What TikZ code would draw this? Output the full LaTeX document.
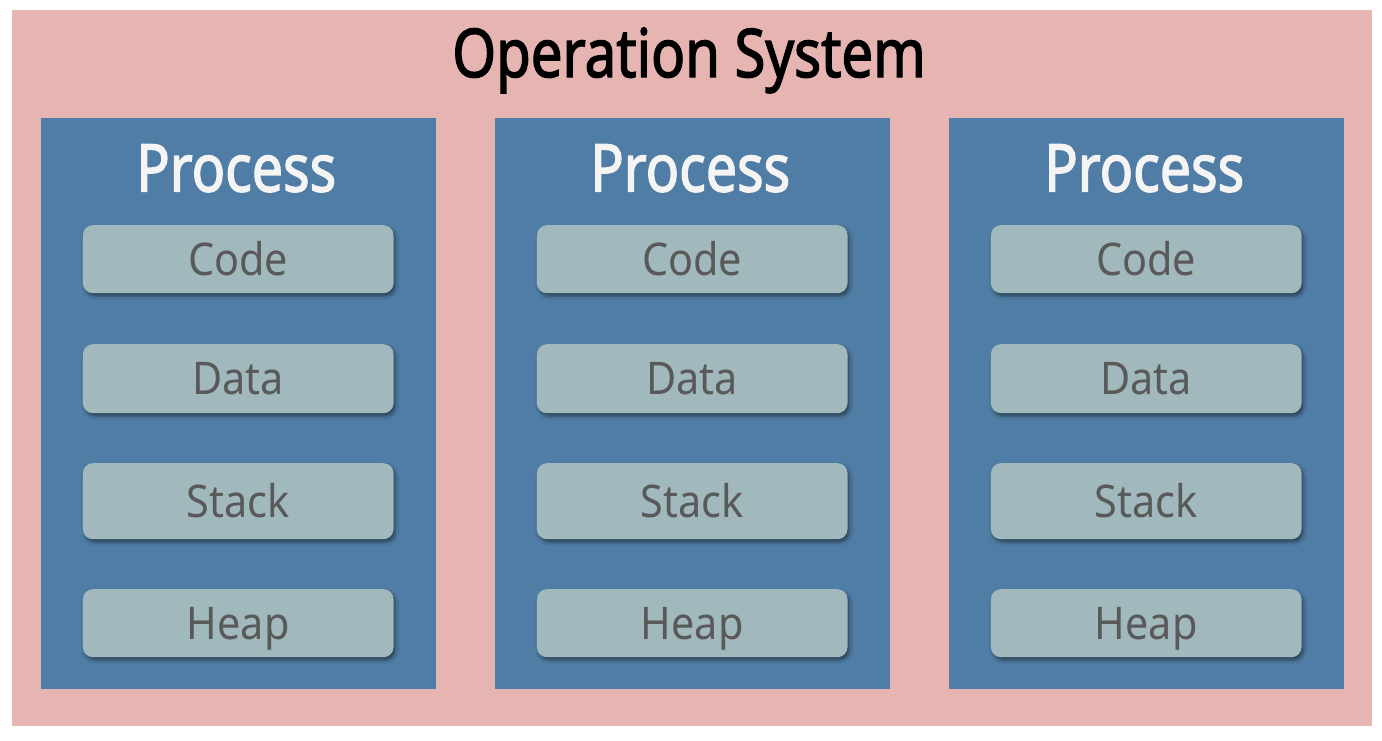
\documentclass[tikz,border=0pt]{standalone}
\usepackage{fontspec}
\setmainfont{Noto Sans}
\newfontfamily\heavyfont[FakeBold=2.2]{Noto Sans}
\usetikzlibrary{shadows.blur}
\definecolor{ospink}{HTML}{E6B4B1}
\definecolor{procblue}{HTML}{507DA5}
\definecolor{segfill}{HTML}{A1B9BC}
\definecolor{segtext}{HTML}{595959}
\definecolor{proctext}{HTML}{F4F4F4}
\newcommand{\titlefmt}[1]{\scalebox{0.84}[1]{\heavyfont\fontsize{67pt}{67pt}\selectfont #1}}
\newcommand{\procfmt}[1]{\scalebox{0.84}[1]{\heavyfont\fontsize{66pt}{66pt}\selectfont #1}}
\newcommand{\segfmt}[1]{\scalebox{0.92}[1]{\fontsize{45pt}{45pt}\selectfont #1}}
\begin{document}
\begin{tikzpicture}[x=1pt,y=-1pt,
  osbox/.style={rectangle, fill=ospink, draw=none, inner sep=0pt, anchor=north west,
    minimum width=1360pt, minimum height=716pt},
  procbox/.style={rectangle, fill=procblue, draw=none, inner sep=0pt, anchor=north west,
    minimum width=395pt, minimum height=571pt},
  segbox/.style={rectangle, rounded corners=10pt, fill=segfill, draw=none, inner sep=0pt,
    anchor=north west, minimum width=310.6pt, text=segtext,
    text height=32pt, text depth=0pt,
    blur shadow={shadow xshift=2pt, shadow yshift=-3pt, shadow blur radius=3pt, shadow opacity=45}},
  titletext/.style={inner sep=0pt, anchor=base, text=black},
  proclabel/.style={inner sep=0pt, anchor=base, text=proctext}
]
\useasboundingbox (0,0) rectangle (1382,740);
\fill[white] (0,0) rectangle (1382,740);
\node[osbox] (os) at (12,10) {};
\node[titletext] (title) at (689,77) {\titlefmt{Operation System}};
\foreach \i/\x in {1/40.7,2/494.7,3/948.7}{
  \node[procbox] (p\i) at (\x,118) {};
  \node[proclabel] (pl\i) at ([xshift=195.5pt,yshift=-73.5pt]p\i.north west) {\procfmt{Process}};
  \foreach \n/\t/\yt/\h in {code/Code/225/68, data/Data/344/69, stack/Stack/463/76, heap/Heap/589/68}{
    \node[segbox, minimum height=\h pt] (\n\i) at (\x+42,\yt) {\segfmt{\t}};
  }
}
\end{tikzpicture}
\end{document}
